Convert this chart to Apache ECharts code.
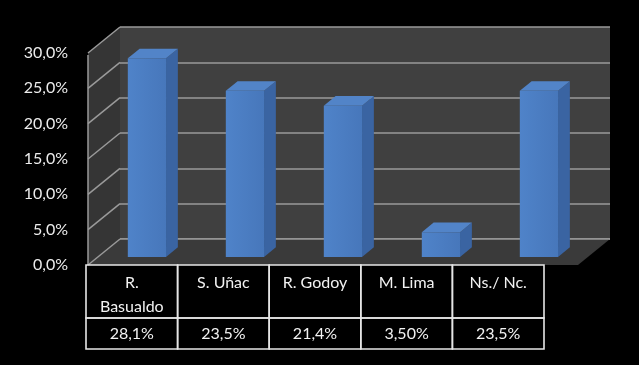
<!DOCTYPE html>
<html>
<head>
<meta charset="utf-8">
<script src="https://cdn.jsdelivr.net/npm/echarts@6/dist/echarts.min.js"></script>
<style>html,body{margin:0;padding:0;background:#000;}#c{width:639px;height:365px;}</style>
</head>
<body>
<div id="c"></div>
<script>
// ---- data ----
const categories = ['R.\nBasualdo', 'S. Uñac', 'R. Godoy', 'M. Lima', 'Ns./ Nc.'];
const values = [28.1, 23.5, 21.4, 3.5, 23.5];
const valueLabels = ['28,1%', '23,5%', '21,4%', '3,50%', '23,5%'];
const yTicks = [0, 5, 10, 15, 20, 25, 30];

// ---- layout / style ----
const DX = 32, DY = -26;           // depth vector of the 3D box
const BAR_FRONT = 0.31, BAR_BACK = 0.68; // bar depth fractions
const BAR_W = 0.39;                // bar width as share of category
const HEADER_H = 53, ROW_H = 31;
const FONT = 'Lato, "Open Sans", sans-serif';
const GRID_COL = '#9a9a9a';

const chart = echarts.init(document.getElementById('c'), null, {renderer: 'canvas'});

function frameItem(params, api) {
  const cs = params.coordSys;
  const L = cs.x, R = cs.x + cs.width;
  const yTop = api.coord([0, yTicks[yTicks.length - 1]])[1];
  const y0 = api.coord([0, 0])[1];
  const ch = [];
  // side wall
  ch.push({type: 'polygon', shape: {points: [[L, yTop], [L + DX, yTop + DY], [L + DX, y0 + DY], [L, y0]]},
    style: {fill: '#353535'}});
  // floor
  ch.push({type: 'polygon', shape: {points: [[L, y0], [L + DX, y0 + DY], [R + DX, y0 + DY], [R, y0]]},
    style: {fill: '#3a3a3a'}});
  // side wall gridlines
  yTicks.forEach(t => {
    const y = api.coord([0, t])[1];
    ch.push({type: 'line', shape: {x1: L, y1: y, x2: L + DX, y2: y + DY},
      style: {stroke: GRID_COL, lineWidth: 1.5}});
  });
  // floor back edge
  ch.push({type: 'line', shape: {x1: L + DX, y1: y0 + DY, x2: R + DX, y2: y0 + DY},
    style: {stroke: GRID_COL, lineWidth: 1.5}});
  // side wall front edge
  ch.push({type: 'line', shape: {x1: L, y1: yTop + 2, x2: L, y2: y0},
    style: {stroke: GRID_COL, lineWidth: 1.5}});
  return {type: 'group', children: ch};
}

function barItem(params, api) {
  const i = api.value(0), v = api.value(1);
  const base = api.coord([i, 0]);
  const top = api.coord([i, v]);
  const w = api.size([1, 0])[0] * BAR_W;
  const fx = DX * BAR_FRONT, fy = DY * BAR_FRONT;
  const bx = DX * BAR_BACK, by = DY * BAR_BACK;
  const x1 = base[0] - w / 2 + fx, x2 = base[0] + w / 2 + fx;
  const yb = base[1] + fy, yt = top[1] + fy;
  const sx = bx - fx, sy = by - fy;
  return {type: 'group', children: [
    {type: 'polygon', shape: {points: [[x2, yb], [x2 + sx, yb + sy], [x2 + sx, yt + sy], [x2, yt]]},
      style: {fill: '#3a64a2'}},
    {type: 'polygon', shape: {points: [[x1, yt], [x1 + sx, yt + sy], [x2 + sx, yt + sy], [x2, yt]]},
      style: {fill: '#5284c8'}},
    {type: 'rect', shape: {x: x1, y: yt, width: x2 - x1, height: yb - yt},
      style: {fill: new echarts.graphic.LinearGradient(0, 0, 1, 0, [
        {offset: 0, color: '#4f83c9'}, {offset: 1, color: '#4777bb'}])}}
  ]};
}

function tableItem(params, api) {
  const i = api.value(0);
  const cs = params.coordSys;
  const c = api.coord([i, 0]);
  const w = api.size([1, 0])[0];
  const x0 = c[0] - w / 2, y0 = cs.y;
  const stroke = {stroke: '#e6e6e6', lineWidth: 1.6, fill: null};
  return {type: 'group', children: [
    {type: 'rect', shape: {x: x0, y: y0, width: w, height: HEADER_H}, style: stroke},
    {type: 'rect', shape: {x: x0, y: y0 + HEADER_H, width: w, height: ROW_H}, style: stroke},
    {type: 'text', x: c[0], y: y0 + 6, style: {text: categories[i], fill: '#f2f2f2',
      font: '16px ' + FONT, align: 'center', verticalAlign: 'top', lineHeight: 24}},
    {type: 'text', x: c[0], y: y0 + HEADER_H + ROW_H / 2, style: {text: valueLabels[i], fill: '#f2f2f2',
      font: '16px ' + FONT, align: 'center', verticalAlign: 'middle'}}
  ]};
}

const option = {
  backgroundColor: '#000',
  animation: false,
  grid: [
    {left: 88, top: 53, width: 490, height: 212, containLabel: false},
    {left: 120, top: 27, width: 490, height: 212, show: true, backgroundColor: '#404040', borderWidth: 0},
    {left: 86, top: 265, width: 458, height: 84}
  ],
  xAxis: [
    {gridIndex: 0, type: 'category', data: categories, show: false},
    {gridIndex: 1, type: 'category', data: categories, show: false},
    {gridIndex: 2, type: 'category', data: categories, show: false}
  ],
  yAxis: [
    {gridIndex: 0, type: 'value', min: 0, max: 30, interval: 5,
      axisLine: {show: false}, axisTick: {show: false}, splitLine: {show: false},
      axisLabel: {color: '#ececec', fontSize: 16, fontFamily: FONT, margin: 20,
        formatter: v => v.toFixed(1).replace('.', ',') + '%'}},
    {gridIndex: 1, type: 'value', min: 0, max: 30, interval: 5,
      axisLine: {show: false}, axisTick: {show: false}, axisLabel: {show: false},
      splitLine: {show: true, lineStyle: {color: GRID_COL, width: 1.5}}},
    {gridIndex: 2, type: 'value', min: 0, max: 1, show: false}
  ],
  series: [
    {type: 'line', xAxisIndex: 1, yAxisIndex: 1, data: [], silent: true},
    {type: 'custom', xAxisIndex: 0, yAxisIndex: 0, renderItem: frameItem, data: [[0, 0]], clip: false, z: 2, silent: true},
    {type: 'custom', xAxisIndex: 0, yAxisIndex: 0, renderItem: barItem,
      data: values.map((v, i) => [i, v]), clip: false, z: 3},
    {type: 'custom', xAxisIndex: 2, yAxisIndex: 2, renderItem: tableItem,
      data: categories.map((c, i) => [i, 0]), clip: false, z: 4}
  ]
};
chart.setOption(option);
</script>
</body>
</html>
